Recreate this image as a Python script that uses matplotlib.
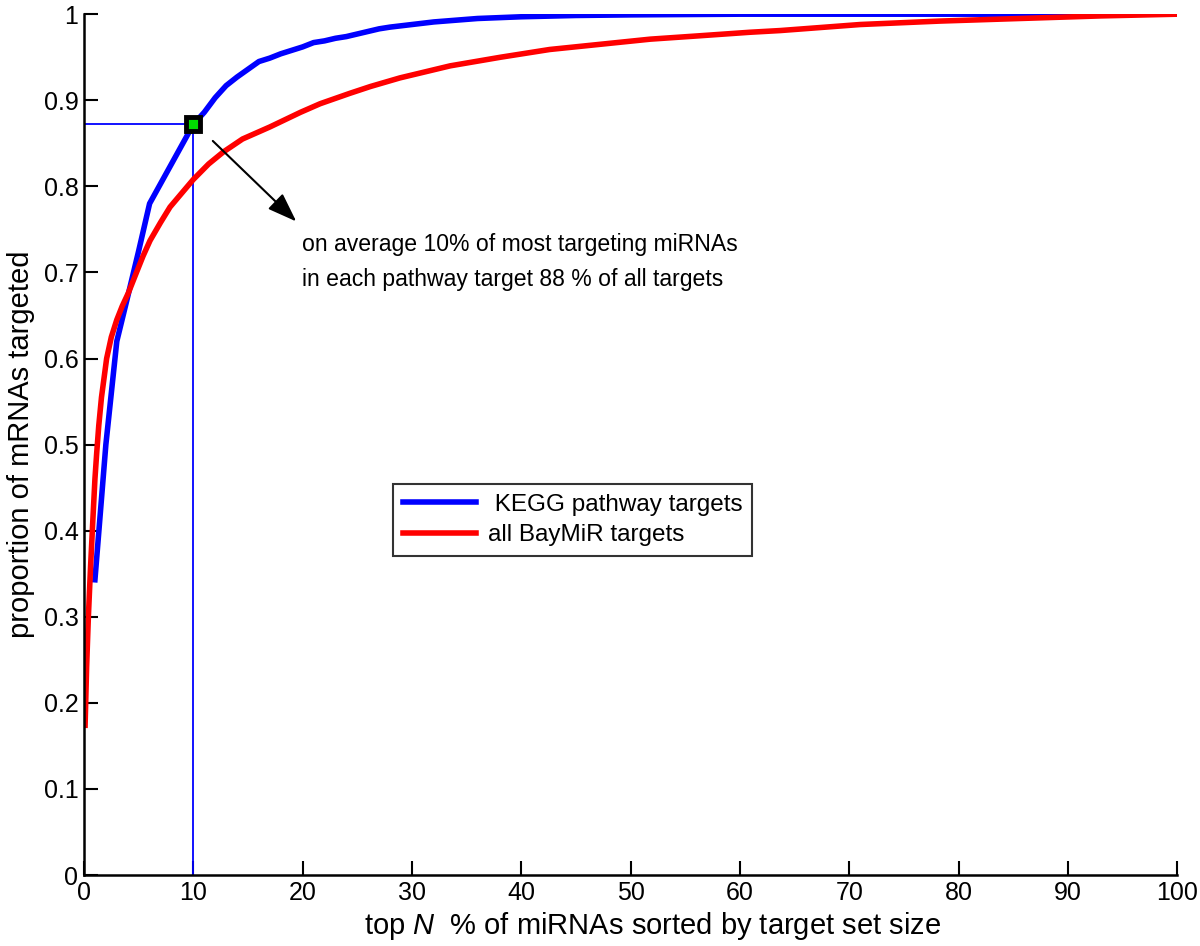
import matplotlib
matplotlib.use("Agg")
import matplotlib.pyplot as plt

plt.rcParams["font.family"] = ["Liberation Sans", "DejaVu Sans"]
plt.rcParams["mathtext.fontset"] = "custom"
plt.rcParams["mathtext.rm"] = "Liberation Sans"
plt.rcParams["mathtext.it"] = "Liberation Sans:italic"

# KEGG pathway targets (read at 1 % steps)
kegg_x = [1, 2, 3, 4, 5, 6, 7, 8, 9, 10, 11, 12, 13, 14, 15, 16, 17, 18, 19, 20,
          21, 22, 23, 24, 25, 26, 27, 28, 30, 32, 34, 36, 38, 40, 45, 50, 60, 100]
kegg_y = [0.343, 0.50, 0.62, 0.672, 0.725, 0.78, 0.803, 0.826, 0.849, 0.872,
          0.886, 0.903, 0.917, 0.927, 0.936, 0.945, 0.949, 0.954, 0.958, 0.962,
          0.967, 0.969, 0.972, 0.974, 0.977, 0.980, 0.983, 0.985, 0.988, 0.991,
          0.993, 0.995, 0.996, 0.997, 0.9985, 0.9992, 1.0, 1.0]

# all BayMiR targets
all_x = [0.1, 0.24, 0.4, 0.6, 0.8, 1.0, 1.16, 1.35, 1.6, 2.07, 2.5, 3.0, 3.5, 4.05,
         4.8, 5.4, 6.04, 7.0, 7.87, 9.0, 10, 11.4, 12.75, 14.5, 17.0, 19.8, 21.6,
         24.3, 26.2, 28.9, 33.5, 38.1, 42.6, 47.2, 51.8, 56.4, 60.9, 63.7, 71,
         78.3, 85.6, 93, 100]
all_y = [0.174, 0.242, 0.30, 0.358, 0.41, 0.46, 0.49, 0.522, 0.555, 0.60, 0.625,
         0.645, 0.661, 0.676, 0.700, 0.719, 0.737, 0.758, 0.776, 0.793, 0.808,
         0.826, 0.840, 0.855, 0.869, 0.886, 0.896, 0.908, 0.916, 0.926, 0.940,
         0.950, 0.959, 0.965, 0.971, 0.975, 0.979, 0.981, 0.988, 0.992, 0.995,
         0.998, 1.0]

# highlighted point: top 10 % of miRNAs
mark_x = 10
mark_y = 0.872

note = "on average 10% of most targeting miRNAs\nin each pathway target 88 % of all targets"
arrow_start = (11.6, 0.855)
arrow_end = (19.6, 0.757)
note_pos = (19.9, 0.746)

fig = plt.figure(figsize=(12, 9.46), dpi=100)
ax = fig.add_axes([0.07, 0.075, 0.911, 0.91])

ax.plot([0, mark_x], [mark_y, mark_y], color="#0000ff", lw=1.3)
ax.plot([mark_x, mark_x], [0, mark_y], color="#0000ff", lw=1.3)

ax.plot(kegg_x, kegg_y, color="#0000ff", lw=4, label=" KEGG pathway targets")
ax.plot(all_x, all_y, color="#ff0000", lw=4, label="all BayMiR targets")

ax.plot([mark_x], [mark_y], marker="s", ms=10, mfc="#00dd00", mec="black", mew=3.5,
        zorder=5)

ax.annotate("", xy=arrow_end, xytext=arrow_start,
            arrowprops=dict(arrowstyle="-|>,head_length=1.8,head_width=0.65",
                            color="black", lw=1.5))
ax.text(note_pos[0], note_pos[1], note, fontsize=16.6, ha="left", va="top",
        linespacing=1.7)

ax.set_xlim(0, 100)
ax.set_ylim(0, 1)
ax.set_xticks(range(0, 101, 10))
ax.set_yticks([i / 10 for i in range(11)])
ax.set_yticklabels(["0"] + [f"{i / 10:.1f}" for i in range(1, 10)] + ["1"])
ax.tick_params(direction="in", length=10, width=1.5, labelsize=18, pad=4)
for side in ["top", "right"]:
    ax.spines[side].set_visible(False)
for side in ["left", "bottom"]:
    ax.spines[side].set_linewidth(1.8)

ax.set_xlabel("top $N$  % of miRNAs sorted by target set size", fontsize=21,
              labelpad=4, x=0.52)
ax.set_ylabel("proportion of mRNAs targeted", fontsize=21, labelpad=6)

leg = ax.legend(loc="upper left", bbox_to_anchor=(0.2827, 0.454), borderaxespad=0,
                fontsize=17.5, frameon=True, fancybox=False, edgecolor="black",
                handlelength=3.0, handletextpad=0.5, borderpad=0.4,
                labelspacing=0.35)
leg.get_frame().set_linewidth(1.5)

fig.savefig("out.png", dpi=100)
